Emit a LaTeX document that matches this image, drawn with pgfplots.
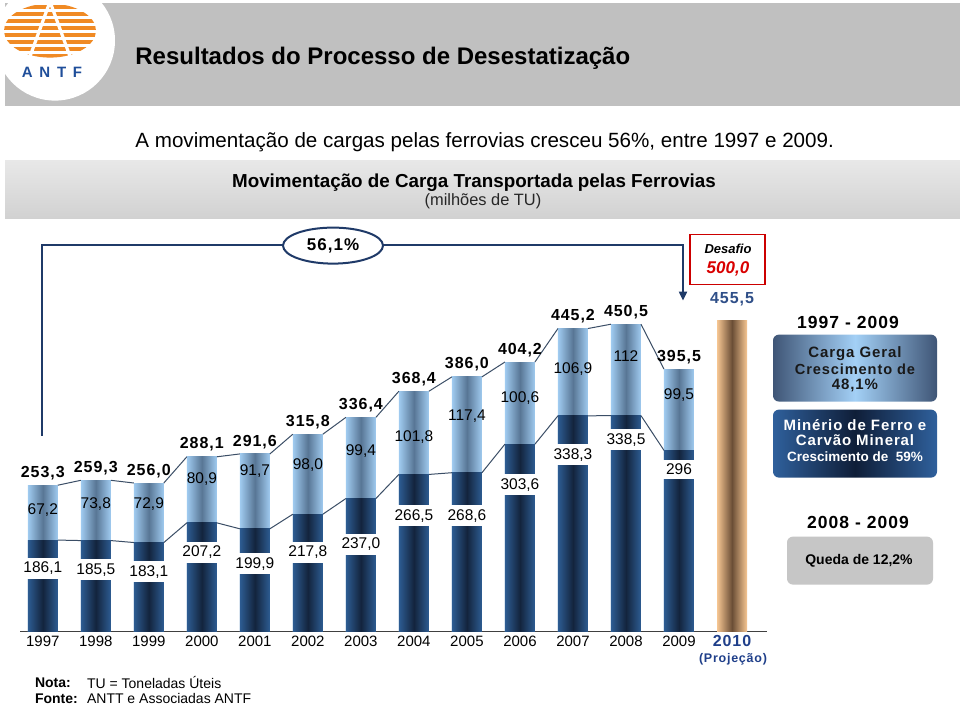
\documentclass[border=0pt]{standalone}
\usepackage{fontspec}
\setmainfont{Liberation Sans}
\newfontfamily\spaced[LetterSpace=6]{Liberation Sans}
\newfontfamily\wide[LetterSpace=45]{Liberation Sans}
\usepackage{pgfplots}
\pgfplotsset{compat=1.18}
\usepackage{pgfplotstable}
\usetikzlibrary{arrows.meta,shapes.geometric}

\definecolor{navy}{HTML}{1F3A68}
\definecolor{darkA}{HTML}{2D5C92}
\definecolor{darkB}{HTML}{13243D}
\definecolor{lightA}{HTML}{A0CBF0}
\definecolor{lightB}{HTML}{587695}
\definecolor{tanA}{HTML}{F6C692}
\definecolor{tanB}{HTML}{6B4E36}
\definecolor{proj}{HTML}{1F3F8A}
\definecolor{val}{HTML}{2F4F88}
\definecolor{logoOr}{HTML}{F08A24}
\definecolor{logoBl}{HTML}{1F4E9A}
\definecolor{hdr}{HTML}{C0C0C0}
\definecolor{lineC}{HTML}{3B4E66}
\definecolor{boxA}{HTML}{3F5576}
\definecolor{boxAl}{HTML}{A3D0F6}
\definecolor{boxB}{HTML}{2F609C}
\definecolor{boxBd}{HTML}{0F1E38}

\pgfplotstableread{
x base tot ymid mlbl ybl blbl tlbl
0 186.1 253.3 223.4 67,2 151.2 186,1 253,3
1 185.5 259.3 230.8 73,8 149.9 185,5 259,3
2 183.1 256.0 230.8 72,9 147.5 183,1 256,0
3 207.2 288.1 261.4 80,9 170.8 207,2 288,1
4 199.9 291.6 270.0 91,7 157.3 199,9 291,6
5 217.8 315.8 278.5 98,0 170.8 217,8 315,8
6 237.0 336.4 295.7 99,4 180.6 237,0 336,4
7 266.5 368.4 312.8 101,8 216.1 266,5 368,4
8 268.6 386.0 337.3 117,4 216.1 268,6 386,0
9 303.6 404.2 360.6 100,6 254.0 303,6 404,2
10 338.3 445.2 396.1 106,9 290.8 338,3 445,2
11 338.5 450.5 412.0 112 309.1 338,5 450,5
12 296.0 395.5 364.3 99,5 272.4 296 395,5
}\data

\begin{document}
\begin{tikzpicture}
\begin{scope}[x=0.5pt,y=0.5pt]
% page
\fill[white] (0,0) rectangle (960,717);
% header
\fill[hdr] (5,614) rectangle (960,717);
\begin{scope}
\clip (0,0) rectangle (960,717);
\fill[white] (55,679) circle (60);
\end{scope}
% logo stripes
\begin{scope}
\clip (50,689) ellipse (46 and 27);
\foreach \yy in {662,669,676,683,690,697,704,711} {\fill[logoOr] (0,\yy) rectangle (110,\yy+4);}
\end{scope}
\draw[white, line width=1.6pt] (50,718) -- (27,655);
\draw[white, line width=1.6pt] (50,718) -- (73,655);
\node[font=\wide\bfseries\fontsize{7.5}{9}\selectfont, text=logoBl] at (52,647) {ANTF};
% title
\node[anchor=west, inner sep=0pt, font=\bfseries\fontsize{12}{14}\selectfont] at (135,661) {Resultados do Processo de Desestatização};
\node[anchor=west, inner sep=0pt, font=\fontsize{10.3}{12}\selectfont] at (135,577) {A movimentação de cargas pelas ferrovias cresceu 56\%, entre 1997 e 2009.};
% chart title box
\shade[top color=gray!18, bottom color=gray!36] (5,501) rectangle (960,559);
\node[font=\bfseries\fontsize{9.4}{11}\selectfont] at (474,537) {Movimentação de Carga Transportada pelas Ferrovias};
\node[font=\fontsize{8.2}{9}\selectfont, text=black!85] at (483,518) {(milhões de TU)};
\end{scope}

\begin{axis}[
  at={(10pt,44pt)}, anchor=south west,
  scale only axis, width=373.5pt, height=193.5pt,
  xmin=-0.43, xmax=13.66, ymin=74, ymax=548,
  axis x line*=bottom, axis y line=none,
  axis line style={-, draw=black!75, line width=0.6pt},
  xtick={0,...,13},
  xticklabels={1997,1998,1999,2000,2001,2002,2003,2004,2005,2006,2007,2008,2009,{\color{proj}\spaced\bfseries\fontsize{8}{9}\selectfont 2010}},
  xtick style={draw=none},
  xticklabel style={font=\fontsize{7.5}{9}\selectfont, text=black, yshift=1.5pt},
  clip mode=individual,
  unbounded coords=jump,
]
% bars (one plot per bar so that each bar gets its own shading)
\pgfplotsinvokeforeach{0,...,12}{
\addplot[ybar, bar width=15pt, bar shift=0pt, draw=none, restrict x to domain=#1:#1,
  left color=lightA, right color=lightA, middle color=lightB]
  table[x=x,y=tot]{\data};
}
\pgfplotsinvokeforeach{0,...,12}{
\addplot[ybar, bar width=15pt, bar shift=0pt, draw=none, restrict x to domain=#1:#1,
  left color=darkA, right color=darkA, middle color=darkB]
  table[x=x,y=base]{\data};
}
\addplot[ybar, bar width=15pt, bar shift=0pt, draw=none,
  left color=tanA, right color=tanA, middle color=tanB]
  coordinates {(13,455.5)};
% series lines
\addplot[draw=lineC, line width=0.5pt, mark=none] coordinates {
(0.283,253.3) (0.717,259.3) (0.5,nan)
(1.283,259.3) (1.717,256.0) (1.5,nan)
(2.283,256.0) (2.717,288.1) (2.5,nan)
(3.283,288.1) (3.717,291.6) (3.5,nan)
(4.283,291.6) (4.717,315.8) (4.5,nan)
(5.283,315.8) (5.717,336.4) (5.5,nan)
(6.283,336.4) (6.717,368.4) (6.5,nan)
(7.283,368.4) (7.717,386.0) (7.5,nan)
(8.283,386.0) (8.717,404.2) (8.5,nan)
(9.283,404.2) (9.717,445.2) (9.5,nan)
(10.283,445.2) (10.717,450.5) (10.5,nan)
(11.283,450.5) (11.717,395.5)
};
\addplot[draw=lineC, line width=0.5pt, mark=none] coordinates {
(0.283,186.1) (0.717,185.5) (0.5,nan)
(1.283,185.5) (1.717,183.1) (1.5,nan)
(2.283,183.1) (2.717,207.2) (2.5,nan)
(3.283,207.2) (3.717,199.9) (3.5,nan)
(4.283,199.9) (4.717,217.8) (4.5,nan)
(5.283,217.8) (5.717,237.0) (5.5,nan)
(6.283,237.0) (6.717,266.5) (6.5,nan)
(7.283,266.5) (7.717,268.6) (7.5,nan)
(8.283,268.6) (8.717,303.6) (8.5,nan)
(9.283,303.6) (9.717,338.3) (9.5,nan)
(10.283,338.3) (10.717,338.5) (10.5,nan)
(11.283,338.5) (11.717,296.0)
};
% labels
\addplot[draw=none, mark=none, nodes near coords, point meta=explicit symbolic,
  nodes near coords style={font=\spaced\bfseries\fontsize{8}{9}\selectfont, text=black, anchor=south, inner sep=0pt, yshift=2.5pt}]
  table[x=x,y=tot,meta=tlbl]{\data};
\addplot[draw=none, mark=none, nodes near coords, point meta=explicit symbolic,
  nodes near coords style={font=\fontsize{7.75}{9}\selectfont, text=black, anchor=center, inner sep=0pt}]
  table[x=x,y=ymid,meta=mlbl]{\data};
\addplot[draw=none, mark=none, nodes near coords, point meta=explicit symbolic,
  nodes near coords style={font=\fontsize{7.75}{9}\selectfont, text=black, anchor=center, fill=white, inner xsep=1.5pt, inner ysep=2pt}]
  table[x=x,y=ybl,meta=blbl]{\data};
\addplot[draw=none, mark=none, nodes near coords, point meta=explicit symbolic,
  nodes near coords style={font=\spaced\bfseries\fontsize{8}{9}\selectfont, text=val, anchor=south, inner sep=0pt, yshift=7pt}]
  coordinates {(13,455.5)[455,5]};
\end{axis}

\begin{scope}[x=0.5pt,y=0.5pt]
% bracket
\draw[navy, line width=1pt, -{Triangle[length=4.5pt,width=4pt]}] (42,284) -- (42,475) -- (683,475) -- (683,419);
\node[ellipse, draw=navy, line width=1pt, fill=white, minimum width=50pt, minimum height=18pt, inner sep=0pt,
  font=\spaced\bfseries\fontsize{8.5}{10}\selectfont] at (333,474) {56,1\%};
% desafio
\draw[red!80!black, line width=0.6pt, fill=white] (690,435) rectangle (765,485);
\node[font=\bfseries\itshape\fontsize{6.5}{8}\selectfont] at (728,471) {Desafio};
\node[font=\bfseries\itshape\fontsize{8.5}{10}\selectfont, text=red!85!black] at (728,451) {500,0};
% projection
\node[font=\spaced\bfseries\fontsize{6.25}{7}\selectfont, text=proj] at (733,60) {(Projeção)};
% right panel
\node[font=\spaced\bfseries\fontsize{8.75}{10}\selectfont] at (848,397) {1997 - 2009};
\shade[rounded corners=3pt, left color=boxA, right color=boxA, middle color=boxAl] (773,318) rectangle (937,385);
\node[font=\spaced\bfseries\fontsize{7.5}{9}\selectfont, text=black!90] at (855,366) {Carga Geral};
\node[font=\spaced\bfseries\fontsize{7.3}{9}\selectfont, text=black!90] at (855,350) {Crescimento de};
\node[font=\spaced\bfseries\fontsize{7.5}{9}\selectfont, text=black!90] at (855,334) {48,1\%};
\shade[rounded corners=3pt, left color=boxB, right color=boxB, middle color=boxBd] (773,242) rectangle (937,310);
\node[font=\spaced\bfseries\fontsize{7.5}{9}\selectfont, text=white] at (855,295) {Minério de Ferro e};
\node[font=\spaced\bfseries\fontsize{7.5}{9}\selectfont, text=white] at (855,279) {Carvão Mineral};
\node[font=\bfseries\fontsize{6.75}{8}\selectfont, text=white] at (855,263) {Crescimento de\ \ 59\%};
\node[font=\spaced\bfseries\fontsize{8.75}{10}\selectfont] at (858,197) {2008 - 2009};
\fill[gray!45, rounded corners=3pt] (787,135) rectangle (933,183);
\node[font=\bfseries\fontsize{7}{8}\selectfont] at (859,159) {Queda de 12,2\%};
% footer
\node[anchor=west, font=\bfseries\fontsize{7}{8}\selectfont] at (28,37) {Nota:};
\node[anchor=west, font=\fontsize{7}{8}\selectfont] at (80,37) {TU = Toneladas Úteis};
\node[anchor=west, font=\bfseries\fontsize{7}{8}\selectfont] at (28,21) {Fonte:};
\node[anchor=west, font=\fontsize{7}{8}\selectfont] at (80,21) {ANTT e Associadas ANTF};
\end{scope}
\end{tikzpicture}
\end{document}
